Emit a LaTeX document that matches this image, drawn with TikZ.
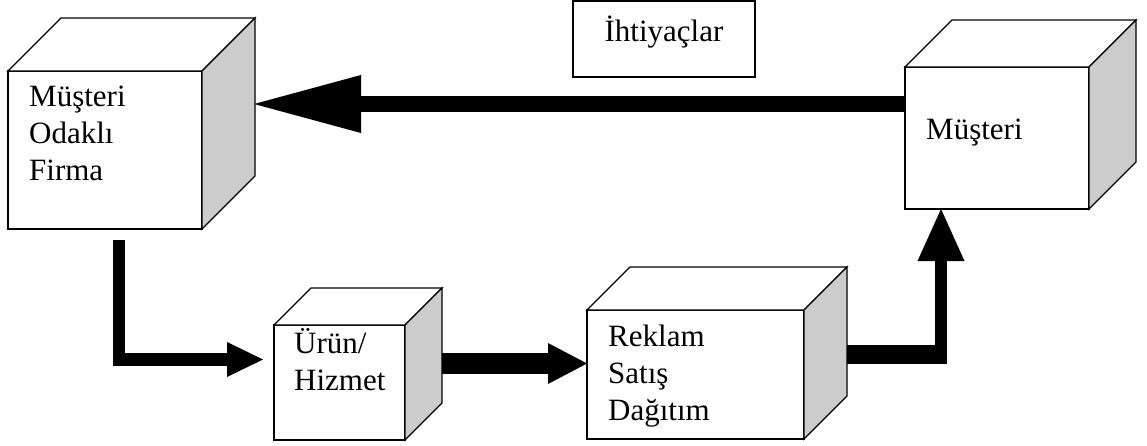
\documentclass[tikz,border=0pt]{standalone}
\usepackage{fontspec}
\setmainfont{Liberation Serif}
\usetikzlibrary{arrows.meta,calc}
\tikzset{
  front/.style={draw=black, line width=1.3pt, fill=white, inner sep=0pt, outer sep=0pt},
  topface/.style={draw=black, line width=1.3pt, fill=white, line join=miter},
  sideface/.style={draw=black, line width=1.3pt, fill=black!20, line join=miter},
  lbl/.style={inner sep=0pt, anchor=base west, font=\fontsize{31}{37}\selectfont},
  flow/.style={draw=black, line join=miter},
}
\newcommand\cubefaces[2]{%
  \draw[topface] (#1.north west) -- ++(#2,-#2) -- ($(#1.north east)+(#2pt,#2pt)$) -- (#1.north east) -- cycle;
  \draw[sideface] (#1.north east) -- ++(#2,-#2) -- ($(#1.south east)+(#2pt,#2pt)$) -- (#1.south east) -- cycle;
}
\begin{document}
\begin{tikzpicture}[x=1pt,y=-1pt]
\useasboundingbox (0,0) rectangle (1147,445);

% Müşteri Odaklı Firma
\node[front, minimum width=194pt, minimum height=158pt] (firma) at (105,150) {};
\cubefaces{firma}{53}
\node[lbl] (firmat) at (29,106) {\begin{tabular}[t]{@{}l@{}}Müşteri\\Odaklı\\Firma\end{tabular}};

% Müşteri
\node[front, minimum width=184pt, minimum height=142pt] (must) at (997,138) {};
\cubefaces{must}{47}
\node[lbl] (mustt) at (926,139) {Müşteri};

% Ürün / Hizmet
\node[front, minimum width=131pt, minimum height=115pt] (urun) at (339.5,382.5) {};
\cubefaces{urun}{37}
\node[lbl] (urunt) at (294,353) {\begin{tabular}[t]{@{}l@{}}Ürün/\\Hizmet\end{tabular}};

% Reklam Satış Dağıtım
\node[front, minimum width=217pt, minimum height=129pt] (reklam) at (695.5,374.5) {};
\cubefaces{reklam}{43}
\node[lbl] (reklamt) at (608,346) {\begin{tabular}[t]{@{}l@{}}Reklam\\Satış\\Dağıtım\end{tabular}};

% İhtiyaçlar
\node[front, minimum width=182pt, minimum height=76pt] (iht) at (664,39) {};
\node[lbl, anchor=base] (ihtt) at (664,41) {İhtiyaçlar};

% connector coordinates
\coordinate (c1s) at (must.west |- 0,104);
\coordinate (c1e) at (254,104);
\coordinate (c2s) at (119,240);
\coordinate (c2e) at (263,359.5);
\coordinate (c3s) at (442,363.5);
\coordinate (c3e) at (reklam.west |- c3s);
\coordinate (c4s) at (847,354.5);
\coordinate (c4c) at (947,354.5);
\coordinate (c4m) at (941,364);
\coordinate (c4e) at (941,0 |- must.south);

\draw[flow, line width=16pt, -{Triangle[length=107pt,width=58pt,line width=0pt]}] (c1s) -- (c1e);
\draw[flow, line width=12.5pt, -{Triangle[length=36pt,width=35pt,line width=0pt]}] (c2s) |- (c2e);
\draw[flow, line width=21pt, -{Triangle[length=39pt,width=41pt,line width=0pt]}] (c3s) -- (c3e);
\draw[flow, line width=19pt] (c4s) -- (c4c);
\draw[flow, line width=12pt, -{Triangle[length=52pt,width=47pt,line width=0pt]}] (c4m) -- (c4e);
\end{tikzpicture}
\end{document}
